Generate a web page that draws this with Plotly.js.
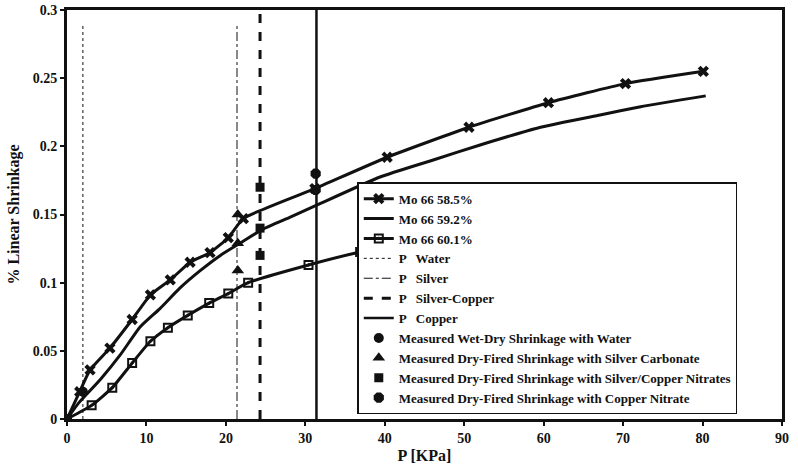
<!DOCTYPE html>
<html>
<head>
<meta charset="utf-8">
<script src="https://cdn.plot.ly/plotly-3.0.1.min.js"></script>
<style>html,body{margin:0;padding:0;background:#fff}#chart{width:798px;height:471px}</style>
</head>
<body>
<div id="chart"></div>
<script>
// Mo 66 58.5% (x markers)
const p585 = [0, 1.6, 2.9, 5.4, 8.2, 10.5, 13.0, 15.5, 18.0, 20.3, 22.2, 31.2, 40.3, 50.6, 60.6, 70.3, 80.1];
const s585 = [0, 0.020, 0.036, 0.052, 0.073, 0.091, 0.102, 0.115, 0.122, 0.133, 0.147, 0.169, 0.192, 0.214, 0.232, 0.246, 0.255];
// Mo 66 59.2% (plain line)
const p592 = [0, 1.5, 4.2, 6.7, 9.2, 11.7, 14.2, 16.8, 19.3, 21.8, 24.6, 28.1, 31.5, 39.4, 46.1, 52.0, 59.6, 67.1, 72.2, 80.4];
const s592 = [0, 0.012, 0.029, 0.047, 0.0675, 0.081, 0.096, 0.109, 0.120, 0.129, 0.139, 0.148, 0.157, 0.1775, 0.190, 0.201, 0.214, 0.223, 0.229, 0.237];
// Mo 66 60.1% (square/dot markers)
const p601 = [0, 3.1, 5.7, 8.2, 10.5, 12.7, 15.2, 17.9, 20.3, 22.8, 30.4, 36.9, 40.0];
const s601 = [0, 0.010, 0.023, 0.041, 0.057, 0.067, 0.076, 0.085, 0.092, 0.100, 0.113, 0.1225, 0.126];
// Critical pressure lines
const pWater = 2.0, pSilver = 21.4, pSilverCopper = 24.3, pCopper = 31.4;
const lineLow = [0, 0.29];
const lineFull = [0, 0.3];
// Measured shrinkage points
const waterP = [2.0], waterS = [0.020];
const silverP = [21.5, 21.5, 21.5], silverS = [0.150, 0.129, 0.109];
const agcuP = [24.3, 24.3, 24.3, 0], agcuS = [0.170, 0.140, 0.120, 0];
const cuP = [31.3, 31.3], cuS = [0.180, 0.168];

const xTicks = [0, 10, 20, 30, 40, 50, 60, 70, 80, 90];
const yTicks = [0, 0.05, 0.1, 0.15, 0.2, 0.25, 0.3];
const yTickText = ['0', '0.05', '0.1', '0.15', '0.2', '0.25', '0.3'];

const serif = 'Liberation Serif, DejaVu Serif, serif';
const blk = '#111';

const traces = [
  {x: p585, y: s585, name: 'Mo 66 58.5%', mode: 'lines+markers', line: {color: blk, width: 3, shape: 'spline', smoothing: 0.5},
   marker: {symbol: 'x', size: 10, color: blk}},
  {x: p592, y: s592, name: 'Mo 66 59.2%', mode: 'lines', line: {color: blk, width: 3, shape: 'spline', smoothing: 0.5}},
  {x: p601, y: s601, name: 'Mo 66 60.1%', mode: 'lines+markers', line: {color: blk, width: 3, shape: 'spline', smoothing: 0.5},
   marker: {symbol: 'square-open-dot', size: 8, color: blk, line: {width: 2, color: blk}}},
  {x: [pWater, pWater], y: lineLow, name: 'P   Water', mode: 'lines', line: {color: blk, width: 1, dash: 'dot'}},
  {x: [pSilver, pSilver], y: lineLow, name: 'P   Silver', mode: 'lines', line: {color: blk, width: 1, dash: 'dashdot'}},
  {x: [pSilverCopper, pSilverCopper], y: lineFull, name: 'P   Silver-Copper', mode: 'lines', line: {color: blk, width: 3, dash: 'dash'}},
  {x: [pCopper, pCopper], y: lineFull, name: 'P   Copper', mode: 'lines', line: {color: blk, width: 2.5}},
  {x: waterP, y: waterS, name: 'Measured Wet-Dry Shrinkage with Water', mode: 'markers',
   marker: {symbol: 'circle', size: 10, color: blk}},
  {x: silverP, y: silverS, name: 'Measured Dry-Fired Shrinkage with Silver Carbonate', mode: 'markers',
   marker: {symbol: 'triangle-up', size: 11, color: blk}},
  {x: agcuP, y: agcuS, name: 'Measured Dry-Fired Shrinkage with Silver/Copper Nitrates', mode: 'markers',
   marker: {symbol: 'square', size: 9, color: blk}},
  {x: cuP, y: cuS, name: 'Measured Dry-Fired Shrinkage with Copper Nitrate', mode: 'markers',
   marker: {symbol: 'octagon', size: 11, color: blk}}
];

const layout = {
  width: 798, height: 471,
  margin: {l: 67, r: 16, t: 10, b: 52},
  paper_bgcolor: '#fff', plot_bgcolor: '#fff',
  font: {family: serif, size: 12, color: blk},
  showlegend: true,
  legend: {x: 0.406, y: 0.579, xanchor: 'left', yanchor: 'top', bgcolor: '#fff',
           bordercolor: blk, borderwidth: 1.5, font: {family: serif, size: 13, color: blk, weight: 'bold'},
           tracegroupgap: 0, itemwidth: 30},
  xaxis: {range: [0, 90], tickvals: xTicks, ticktext: xTicks.map(String), showgrid: false, zeroline: false,
          showline: true, linecolor: blk, linewidth: 3, mirror: true, ticks: 'outside', ticklen: 4, tickwidth: 2,
          tickcolor: blk, tickfont: {family: serif, size: 14, color: blk, weight: 'bold'},
          title: {text: 'P [KPa]', font: {family: serif, size: 16, color: blk, weight: 'bold'}, standoff: 6}},
  yaxis: {range: [0, 0.3], tickvals: yTicks, ticktext: yTickText, showgrid: false, zeroline: false,
          showline: true, linecolor: blk, linewidth: 3, mirror: true, ticks: 'outside', ticklen: 4, tickwidth: 2,
          tickcolor: blk, tickfont: {family: serif, size: 14, color: blk, weight: 'bold'},
          title: {text: '% Linear Shrinkage', font: {family: serif, size: 16, color: blk, weight: 'bold'}, standoff: 10}}
};

Plotly.newPlot('chart', traces, layout, {displayModeBar: false, staticPlot: true});
</script>
</body>
</html>
